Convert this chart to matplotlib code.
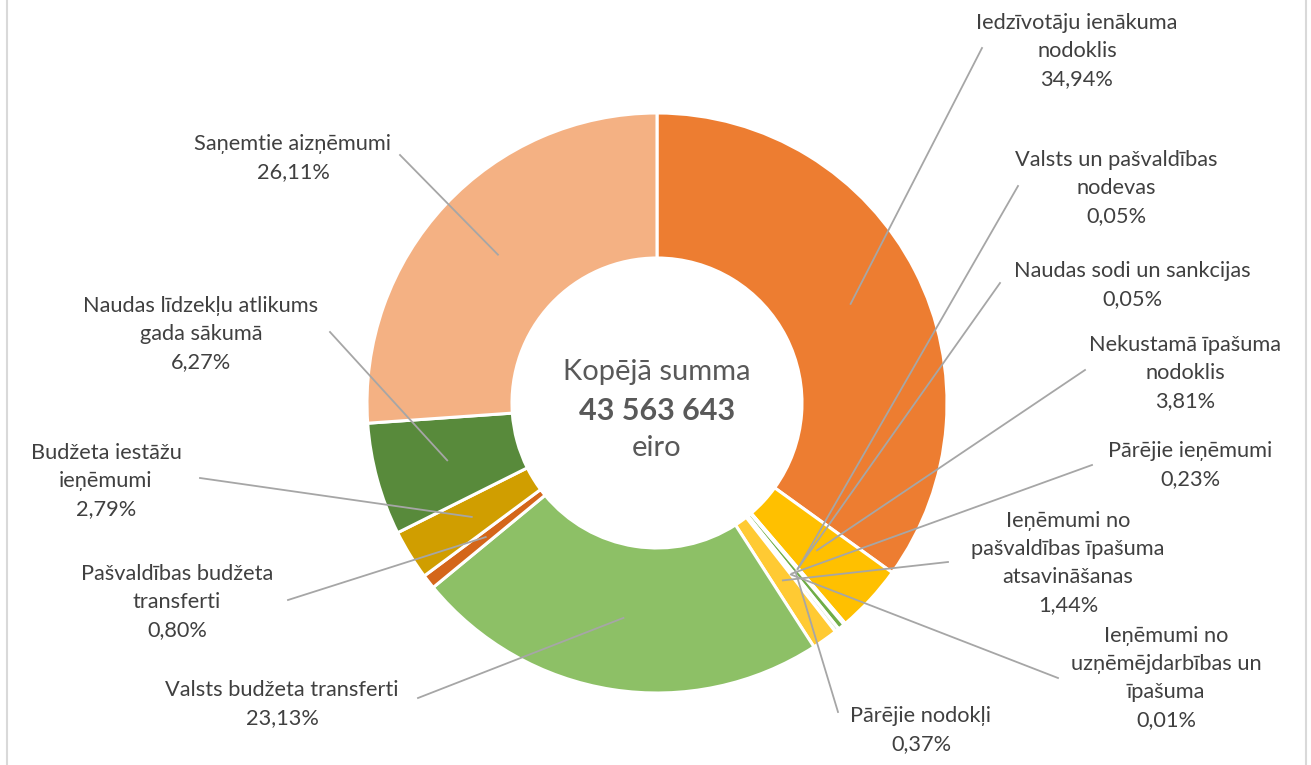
import matplotlib.pyplot as plt
import numpy as np

plt.rcParams['font.family'] = ['Lato', 'DejaVu Sans']

# slices, clockwise from 12 o'clock
names = ["Iedzīvotāju ienākuma\nnodoklis",
         "Nekustamā īpašuma\nnodoklis",
         "Valsts un pašvaldības\nnodevas",
         "Naudas sodi un sankcijas",
         "Pārējie nodokļi",
         "Pārējie ieņēmumi",
         "Ieņēmumi no\nuzņēmējdarbības un\nīpašuma",
         "Ieņēmumi no\npašvaldības īpašuma\natsavināšanas",
         "Valsts budžeta transferti",
         "Pašvaldības budžeta\ntransferti",
         "Budžeta iestāžu\nieņēmumi",
         "Naudas līdzekļu atlikums\ngada sākumā",
         "Saņemtie aizņēmumi"]
shares = [34.94, 3.81, 0.05, 0.05, 0.37, 0.23, 0.01, 1.44, 23.13, 0.80, 2.79, 6.27, 26.11]
pct_text = ["34,94%", "3,81%", "0,05%", "0,05%", "0,37%", "0,23%", "0,01%", "1,44%",
            "23,13%", "0,80%", "2,79%", "6,27%", "26,11%"]
colors = ["#ED7D31", "#FFC000", "#A5A5A5", "#C9C9C9", "#70AD47", "#E2EFDA", "#F8CBAD",
          "#FFCA33", "#8DC066", "#D4661A", "#D09E00", "#588A3B", "#F4B183"]

# label centres and leader start points (pixel coords)
lab_pos = [(1077, 51), (1185, 373), (1116, 188), (1132, 285), (921, 730), (1190, 465),
           (1166, 678), (1068, 563), (282, 704), (177, 602), (106, 481), (201, 334), (293, 158)]
lead_from = [(982, 48), (1085, 370), (1018, 186), (1000, 283), (838, 712), (1092, 465),
             (1058, 678), (948, 562), (418, 698), (288, 600), (200, 478), (330, 332), (400, 155)]

W, H = 1311, 765
fig = plt.figure(figsize=(W / 100, H / 100), dpi=100)
ax = fig.add_axes([0, 0, 1, 1])

cx, cy, R = 657, H - 403, 290
wedges, _ = ax.pie(shares, colors=colors, startangle=90, counterclock=False,
                   radius=R, center=(cx, cy),
                   wedgeprops=dict(width=R * 0.5, edgecolor="white", linewidth=2.2))
ax.set_xlim(0, W)
ax.set_ylim(0, H)
ax.set_aspect("equal")
ax.axis("off")

for w, name, pct, (lx, ly), (sx, sy) in zip(wedges, names, pct_text, lab_pos, lead_from):
    ang = np.deg2rad((w.theta1 + w.theta2) / 2)
    rm = R * 0.75
    ex, ey = cx + rm * np.cos(ang), cy + rm * np.sin(ang)
    ax.plot([sx, ex], [H - sy, ey], color="#A6A6A6", lw=1.3, zorder=5)
    ax.text(lx, H - ly, name + "\n" + pct, ha="center", va="center", fontsize=15.7,
            color="#404040", linespacing=1.52)

ax.text(cx, H - 372, "Kopējā summa", ha="center", va="center", fontsize=21, color="#595959")
ax.text(cx, H - 411, "43 563 643", ha="center", va="center", fontsize=22,
        fontweight="bold", color="#595959")
ax.text(cx, H - 448, "eiro", ha="center", va="center", fontsize=21, color="#595959")

# chart frame
ax.plot([6.5, 6.5], [0, H], color="#D9D9D9", lw=1.5)
ax.plot([1305.5, 1305.5], [0, H], color="#D9D9D9", lw=1.5)

fig.savefig("out.png", dpi=100)
